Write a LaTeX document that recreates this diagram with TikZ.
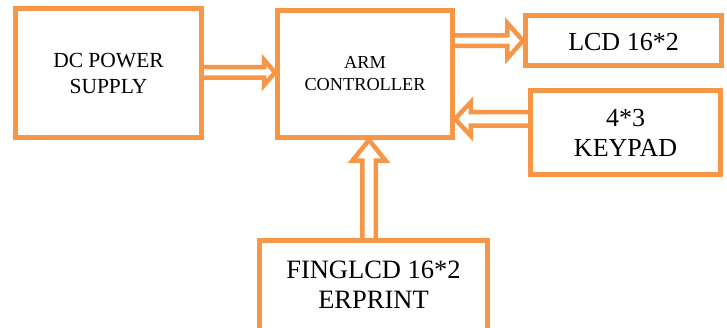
\documentclass[tikz,border=0pt]{standalone}
\usepackage{fontspec}
\setmainfont{Liberation Serif}
\usetikzlibrary{calc,backgrounds}
\definecolor{org}{HTML}{F79646}
\tikzset{
 box/.style={draw=org, line width=5pt, rectangle, outer sep=0pt, inner sep=0pt, align=center, text=black},
 blk/.style={draw=org, line width=4.5pt, fill=white, line join=miter},
}
\newcommand\blockarrow[5]{%
 \draw[blk] let \p1=(#1), \p2=(#2), \n1={atan2(\y2-\y1,\x2-\x1)}, \n2={veclen(\x2-\x1,\y2-\y1)} in
 [shift={(\p1)}, rotate=\n1]
 (0pt,#3pt) -- ({\n2-2.5pt-#5pt},#3pt) -- ({\n2-2.5pt-#5pt},#4pt) -- ({\n2-2.5pt},0pt)
 -- ({\n2-2.5pt-#5pt},-#4pt) -- ({\n2-2.5pt-#5pt},-#3pt) -- (0pt,-#3pt) -- cycle;}
\begin{document}
\begin{tikzpicture}[x=1pt,y=-1pt]
\useasboundingbox (0,0) rectangle (727,328);
\clip (0,0) rectangle (727,328);
\node[box, minimum width=186pt, minimum height=129.5pt, font=\fontsize{21.5}{26}\selectfont] (dc) at (108.5,73.25) {DC POWER\\SUPPLY};
\node[box, minimum width=175pt, minimum height=127pt, font=\fontsize{18.3}{22}\selectfont] (arm) at (365,74) {ARM\\CONTROLLER};
\node[box, minimum width=196pt, minimum height=50pt, text height=21pt, font=\fontsize{26}{30}\selectfont] (lcd) at (623.5,40.5) {LCD 16*2};
\node[box, minimum width=190pt, minimum height=84pt, font=\fontsize{26}{30}\selectfont] (keypad) at (625.5,132.5) {4*3\\KEYPAD};
\node[box, minimum width=228pt, minimum height=92.5pt, text depth=5pt, font=\fontsize{26.5}{30}\selectfont] (fing) at (373.5,286.75) {FINGLCD 16*2\\ERPRINT};
\coordinate (h1) at (0,72.5);
\coordinate (h2) at (0,40.75);
\coordinate (h3) at (0,119);
\coordinate (h4) at (369,0);
\begin{pgfonlayer}{background}
\blockarrow{dc.east |- h1}{arm.west |- h1}{5.25}{12.75}{11}
\blockarrow{arm.east |- h2}{lcd.west |- h2}{5.25}{17.75}{15.75}
\blockarrow{keypad.west |- h3}{arm.east |- h3}{6.75}{16.75}{15.75}
\blockarrow{h4 |- fing.north}{h4 |- arm.south}{6.75}{16.75}{20.75}
\end{pgfonlayer}
\end{tikzpicture}
\end{document}
